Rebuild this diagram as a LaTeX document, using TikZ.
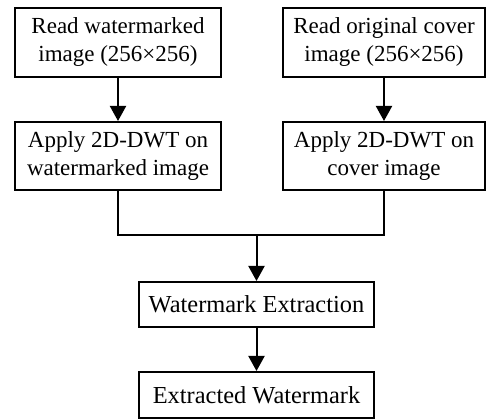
\documentclass[tikz,border=0pt]{standalone}
\usepackage{fontspec}
\setmainfont{Liberation Serif}
\usetikzlibrary{arrows.meta}
\begin{document}
\begin{tikzpicture}[x=1pt,y=-1pt,
  box/.style={draw, line width=2pt, align=center, inner sep=0pt,
    font=\fontsize{23}{28}\selectfont},
  lowbox/.style={box, font=\fontsize{24.4}{29}\selectfont},
  conn/.style={line width=2pt},
  arr/.style={conn, -{Triangle[width=16pt,length=15pt]}}]
\useasboundingbox (0,0) rectangle (488,419);
\node[box, minimum width=206pt, minimum height=69pt] (b1) at (118,42.5) {Read watermarked\\image (256×256)};
\node[box, minimum width=202pt, minimum height=69pt] (b2) at (384,42.5) {Read original cover\\image (256×256)};
\node[box, minimum width=206pt, minimum height=68pt] (b3) at (118,156) {Apply 2D-DWT on\\watermarked image};
\node[box, minimum width=202pt, minimum height=68pt] (b4) at (384,156) {Apply 2D-DWT on\\cover image};
\node[lowbox, minimum width=235pt, minimum height=45pt] (b5) at (256.5,304.5) {Watermark Extraction};
\node[lowbox, minimum width=235pt, minimum height=46pt] (b6) at (256.5,395) {Extracted Watermark};
\draw[arr] (b1) -- (b3);
\draw[arr] (b2) -- (b4);
\coordinate (j) at (256.5,235);
\draw[conn] (b3.south) |- (j) -| (b4.south);
\draw[arr] (j) -- (b5.north);
\draw[arr] (b5) -- (b6);
\end{tikzpicture}
\end{document}
